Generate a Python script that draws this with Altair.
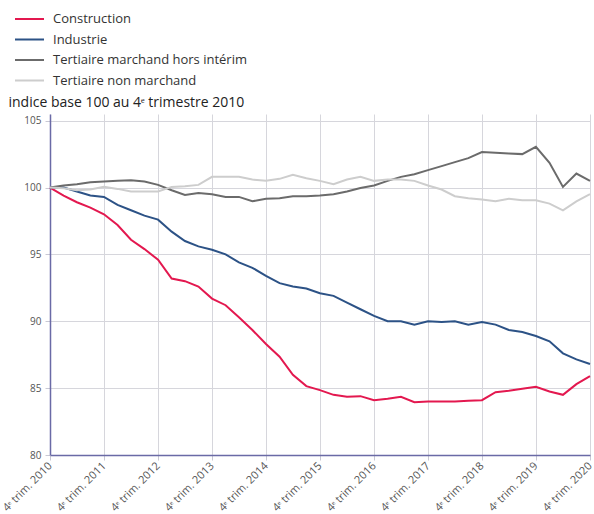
import altair as alt
import pandas as pd

# Quarterly index, base 100 in Q4 2010 (Q4 2010 .. Q4 2020)
quarters = [f"{y}-{m:02d}-01" for y in range(2010, 2021) for m in (1, 4, 7, 10)][3:]

construction = [100, 99.4, 98.9, 98.5, 98.0, 97.2, 96.1, 95.4, 94.6, 93.2,
                93.0, 92.6, 91.7, 91.2, 90.3, 89.35, 88.3, 87.35, 86.0, 85.15,
                84.85, 84.5, 84.35, 84.4, 84.1, 84.2, 84.35, 83.95, 84.0, 84.0,
                84.0, 84.05, 84.1, 84.7, 84.8, 84.95, 85.1, 84.75, 84.5, 85.3,
                85.9]
industrie = [100, 100.0, 99.7, 99.4, 99.3, 98.7, 98.3, 97.9, 97.6, 96.7,
             96.0, 95.6, 95.35, 95.0, 94.4, 94.0, 93.4, 92.85, 92.6, 92.45,
             92.1, 91.9, 91.4, 90.9, 90.4, 90.0, 90.0, 89.75, 90.0, 89.95,
             90.0, 89.75, 89.95, 89.75, 89.35, 89.2, 88.9, 88.5, 87.6, 87.15,
             86.8]
tertiaire_marchand = [100, 100.15, 100.25, 100.4, 100.45, 100.5, 100.55, 100.45, 100.2, 99.8,
                      99.45, 99.6, 99.5, 99.3, 99.3, 98.97, 99.17, 99.2, 99.35, 99.35,
                      99.4, 99.5, 99.7, 99.97, 100.15, 100.5, 100.8, 101.0, 101.3, 101.6,
                      101.9, 102.2, 102.65, 102.6, 102.55, 102.5, 103.05, 101.85, 100.05, 101.05,
                      100.5]
tertiaire_non_marchand = [100, 99.95, 99.8, 99.85, 100.05, 99.9, 99.7, 99.7, 99.7, 100.05,
                          100.1, 100.2, 100.8, 100.8, 100.8, 100.6, 100.5, 100.65, 100.95, 100.7,
                          100.5, 100.25, 100.6, 100.8, 100.5, 100.6, 100.6, 100.5, 100.15, 99.85,
                          99.35, 99.2, 99.1, 98.97, 99.17, 99.05, 99.05, 98.8, 98.3, 98.97,
                          99.5]

series_names = ["Construction", "Industrie",
                "Tertiaire marchand hors intérim", "Tertiaire non marchand"]
series_colors = ["#e3184f", "#2c5286", "#6b6b6b", "#cdcdcd"]
series_values = [construction, industrie, tertiaire_marchand, tertiaire_non_marchand]

year_ticks = [alt.DateTime(year=y, month=10, date=1, utc=True) for y in range(2010, 2021)]

rows = []
for name, vals in zip(series_names, series_values):
    for q, v in zip(quarters, vals):
        rows.append({"trimestre": q, "serie": name, "indice": v})
df = pd.DataFrame(rows)

FONT = "Open Sans"

chart = alt.Chart(df).mark_line(strokeWidth=2).encode(
    x=alt.X(
        "trimestre:T",
        scale=alt.Scale(type="utc", domain=[year_ticks[0], year_ticks[-1]], nice=False),
        axis=alt.Axis(
            values=year_ticks,
            labelExpr="'4ᵉ trim. ' + utcFormat(datum.value, '%Y')",
            labelAngle=-45, labelAlign="right", labelBaseline="middle",
            labelPadding=4, tickSize=5, title=None, labelFontSize=11,
        ),
    ),
    y=alt.Y(
        "indice:Q",
        scale=alt.Scale(domain=[80, 105.5], nice=False, zero=False),
        axis=alt.Axis(
            values=[80, 85, 90, 95, 100, 105],
            tickSize=5, labelPadding=4,
            title="indice base 100 au 4ᵉ trimestre 2010",
            titleAngle=0, titleAlign="left", titleBaseline="alphabetic",
            titleX=-42, titleY=-8,
        ),
    ),
    color=alt.Color(
        "serie:N",
        scale=alt.Scale(domain=series_names, range=series_colors),
        legend=alt.Legend(
            title=None, orient="none", legendX=-36, legendY=-105,
            symbolType="stroke", symbolSize=841, symbolStrokeWidth=2,
            clipHeight=20, rowPadding=0.5, labelOffset=8,
        ),
    ),
    order=alt.Order("serie:N"),
).properties(
    width=540,
    height=341,
    autosize=alt.AutoSizeParams(type="none"),
    padding={"left": 50, "top": 114, "right": 4, "bottom": 59},
).configure_view(
    stroke=None
).configure_axis(
    labelFont=FONT, labelFontSize=10, labelColor="#555",
    titleFont=FONT, titleFontSize=14, titleFontWeight="normal", titleColor="#222",
    domainColor="#6a6aa6", domainWidth=1.5,
    gridColor="#d6d6dc", gridWidth=1,
    tickColor="#c8c8d4",
).configure_legend(
    labelFont=FONT, labelFontSize=13, labelColor="#333", labelLimit=400,
)

chart.save("out.html", embed_options={"renderer": "svg", "actions": False})
